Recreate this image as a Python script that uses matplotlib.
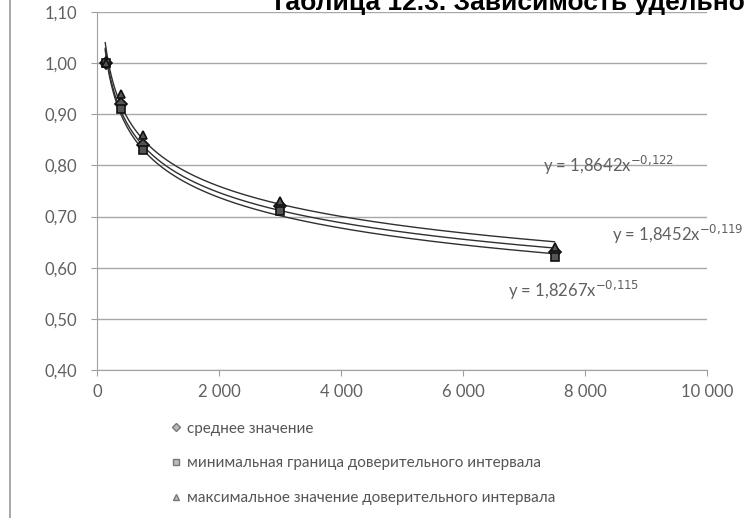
import numpy as np
import matplotlib.pyplot as plt
import matplotlib.ticker as ticker
from matplotlib.lines import Line2D

plt.rcParams['font.family'] = ['Lato', 'DejaVu Sans']

# Data
x_vals = [150, 400, 750, 3000, 7500]
y_mean = [1.00, 0.92, 0.84, 0.72, 0.63]
y_min = [1.00, 0.91, 0.83, 0.71, 0.62]
y_max = [1.00, 0.94, 0.86, 0.73, 0.64]

series_labels = ['среднее значение',
                 'минимальная граница доверительного интервала',
                 'максимальное значение доверительного интервала']
equations = ['y = 1,8642x$^{-0{,}122}$', 'y = 1,8452x$^{-0{,}119}$', 'y = 1,8267x$^{-0{,}115}$']
title = 'Таблица 12.3. Зависимость удельного веса'

dark = '#303030'
txt = '#606060'

fig = plt.figure(figsize=(7.44, 5.18), dpi=100)
ax = fig.add_axes([97/744, 1-370/518, (707-97)/744, (370-12)/518])

x = np.array(x_vals, dtype=float)
xs = np.linspace(x.min()*0.9, x.max(), 300)
markers = ['D', 's', '^']
for ys, m in zip([y_mean, y_min, y_max], markers):
    # power trendline fitted on log-log data (like Excel)
    b, a = np.polyfit(np.log(x), np.log(ys), 1)
    ax.plot(xs, np.exp(a)*xs**b, color=dark, lw=1.0, zorder=2)
    ax.plot(x, ys, linestyle='none', marker=m, ms=6, mfc='#555555', mec='#111111',
            mew=1.2, zorder=3)

ax.set_xlim(0, 10000)
ax.set_ylim(0.40, 1.10)
ax.xaxis.set_major_locator(ticker.MultipleLocator(2000))
ax.yaxis.set_major_locator(ticker.MultipleLocator(0.1))
ax.xaxis.set_major_formatter(ticker.FuncFormatter(lambda v, p: f'{int(v):,}'.replace(',', ' ')))
ax.yaxis.set_major_formatter(ticker.FuncFormatter(lambda v, p: f'{v:.2f}'.replace('.', ',')))
ax.grid(True, axis='y', color='#a8a8a8', lw=1.0)
ax.set_axisbelow(True)
for s in ['top', 'right']:
    ax.spines[s].set_visible(False)
for s in ['left', 'bottom']:
    ax.spines[s].set_color('#a0a0a0')
ax.tick_params(colors='#a0a0a0', labelcolor=txt, labelsize=12, length=4)
ax.tick_params(axis='y', pad=10)
ax.tick_params(axis='x', pad=6)

# trendline equations
eq_pos = [(0.731, 0.80), (0.844, 0.665), (0.674, 0.555)]
for eq, (ex, ey) in zip(equations, eq_pos):
    ax.text(ex, ey, eq, transform=ax.get_yaxis_transform(), fontsize=12, color=txt,
            va='center', clip_on=False)

# legend below the chart
handles = [Line2D([], [], linestyle='none', marker=m, ms=4, mfc='#bbbbbb', mec='#777777')
           for m in markers]
fig.legend(handles, series_labels, loc='upper left', bbox_to_anchor=(155/744, 1-408/518),
           frameon=False, fontsize=11, labelcolor='#555555', handletextpad=0.2,
           handlelength=1.0, labelspacing=1.35)

# title cut off at the top of the scan
fig.text(270/744, 1-3/518, title, fontsize=19, fontweight='bold', family='Liberation Sans',
         va='center', ha='left')

# scan border line on the left
fig.add_artist(Line2D([10/744, 10/744], [0, 1], transform=fig.transFigure, color='#999999', lw=1.2))

plt.savefig('out.png', dpi=100)
